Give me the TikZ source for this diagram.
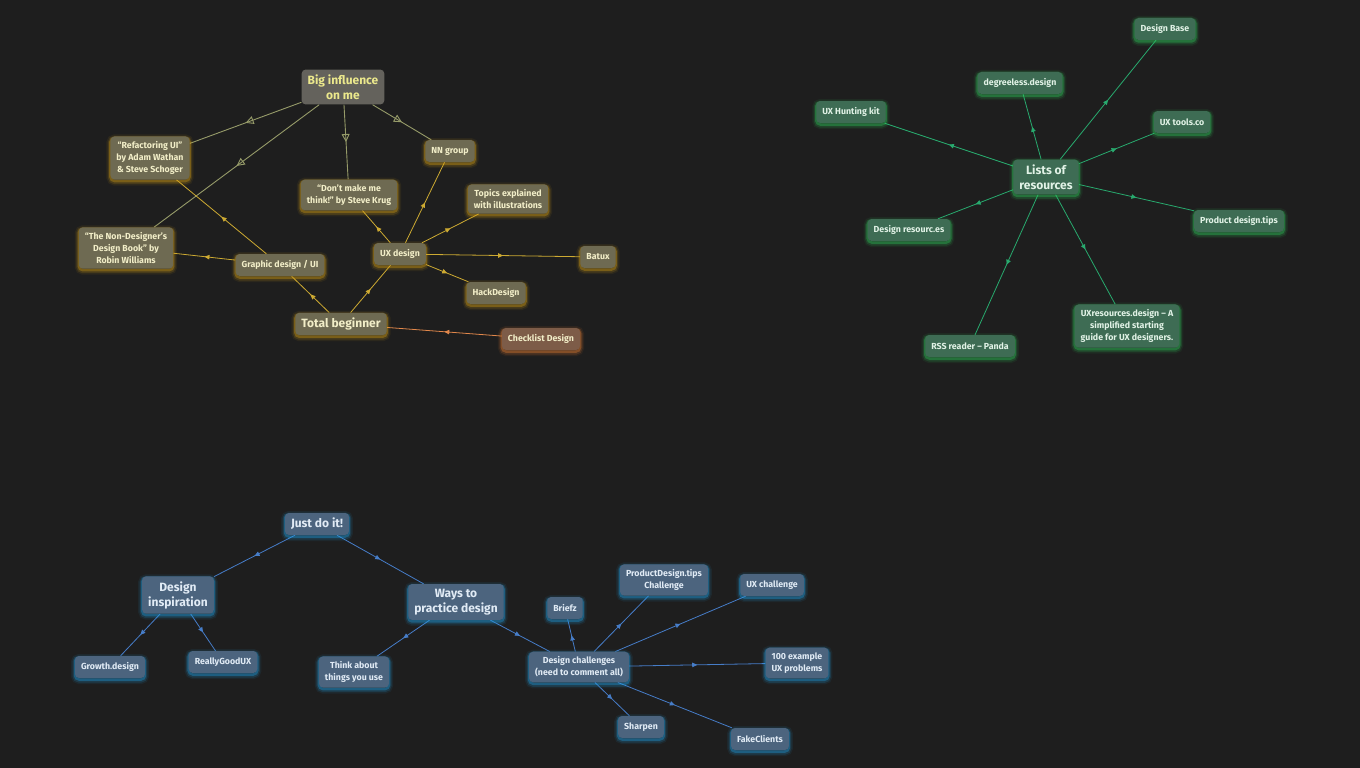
\documentclass[tikz,border=0pt]{standalone}
\usepackage{fontspec}
\setmainfont{Fira Sans}
\usepackage{tikz}
\usepackage{xcolor}
\usetikzlibrary{arrows.meta, decorations.markings, shadows, backgrounds}

\definecolor{canvas}{RGB}{30,30,30}
\definecolor{olivebox}{RGB}{110,106,82}
\definecolor{olivetext}{RGB}{242,238,200}
\definecolor{olivegl}{RGB}{215,160,20}
\definecolor{greybox}{RGB}{100,98,92}
\definecolor{bigtext}{RGB}{235,232,140}
\definecolor{sageline}{RGB}{150,155,105}
\definecolor{goldline}{RGB}{205,170,50}
\definecolor{brownbox}{RGB}{125,92,72}
\definecolor{orangegl}{RGB}{235,130,50}
\definecolor{orangeline}{RGB}{225,135,75}
\definecolor{greenbox}{RGB}{62,108,84}
\definecolor{greentext}{RGB}{225,242,230}
\definecolor{greengl}{RGB}{45,200,90}
\definecolor{greenline}{RGB}{40,170,110}
\definecolor{bluebox}{RGB}{76,100,126}
\definecolor{bluetext}{RGB}{225,235,245}
\definecolor{bluegl}{RGB}{30,160,230}
\definecolor{blueline}{RGB}{70,125,200}

\begin{document}
\begin{tikzpicture}[x=1pt, y=-1pt,
    box/.style={rounded corners=4pt, inner xsep=6pt, inner ysep=5pt, minimum height=22pt,
        align=center, font=\bfseries\fontsize{8.8}{12}\selectfont},
    bigbox/.style={box, font=\bfseries\fontsize{12}{15}\selectfont},
    glow/.style={general shadow={draw=#1, line width=8pt, draw opacity=0.08, shadow yshift=-2pt},
        general shadow={draw=#1, line width=5pt, draw opacity=0.16, shadow yshift=-2pt},
        general shadow={draw=#1, line width=2.5pt, draw opacity=0.35, shadow yshift=-1.5pt}},
    olive/.style={box, fill=olivebox, text=olivetext, glow=olivegl},
    green/.style={box, fill=greenbox, text=greentext, glow=greengl},
    blue/.style={box, fill=bluebox, text=bluetext, glow=bluegl},
    midarr/.style={line width=0.8pt, postaction={decorate}, decoration={markings,
        mark=at position 0.5 with {\arrow{Triangle[length=5pt, width=4.5pt]}}}},
    openarr/.style={line width=0.9pt, postaction={decorate}, decoration={markings,
        mark=at position 0.5 with {\arrow{Triangle[open, length=8pt, width=8pt]}}}}]

    % Canvas
    \begin{pgfonlayer}{background}
        \fill[canvas] (0,0) rectangle (1360,768);
    \end{pgfonlayer}

    % Where I started
    \node[bigbox, fill=greybox, text=bigtext] (big) at (343,87) {Big influence\\on me};
    \node[olive] (refactor) at (150,158) {“Refactoring UI”\\by Adam Wathan\\\& Steve Schoger};
    \node[olive] (nondesign) at (126,248) {“The Non-Designer's\\Design Book" by\\Robin Williams};
    \node[olive] (graphic) at (280,265) {Graphic design / UI};
    \node[olive] (krug) at (349,195) {“Don't make me\\think!" by Steve Krug};
    \node[olive] (nngroup) at (450,151) {NN group};
    \node[olive] (topics) at (508,199) {Topics explained\\with illustrations};
    \node[olive] (uxdesign) at (400,254) {UX design};
    \node[olive] (batux) at (598,257) {Batux};
    \node[olive] (hackdesign) at (496,293) {HackDesign};
    \node[bigbox, fill=olivebox, text=olivetext, glow=olivegl] (beginner) at (341,324) {Total beginner};
    \node[box, fill=brownbox, text=olivetext, glow=orangegl] (checklist) at (541,339) {Checklist Design};

    % Lists of resources
    \node[bigbox, fill=greenbox, text=greentext, glow=greengl] (lists) at (1046,177) {Lists of\\resources};
    \node[green] (designbase) at (1165,29) {Design Base};
    \node[green] (degreeless) at (1020,83) {degreeless.design};
    \node[green] (hunting) at (851,112) {UX Hunting kit};
    \node[green] (uxtools) at (1182,122) {UX tools.co};
    \node[green] (pdtips) at (1239,221) {Product design.tips};
    \node[green] (resources) at (909,230) {Design resourc.es};
    \node[green] (rss) at (970,346) {RSS reader – Panda};
    \node[green] (uxres) at (1127,326) {UXresources.design – A\\simplified starting\\guide for UX designers.};

    % Just do it
    \node[bigbox, fill=bluebox, text=bluetext, glow=bluegl] (justdo) at (317,524) {Just do it!};
    \node[bigbox, fill=bluebox, text=bluetext, glow=bluegl] (inspire) at (178,595) {Design\\inspiration};
    \node[bigbox, fill=bluebox, text=bluetext, glow=bluegl] (practice) at (456,602) {Ways to\\practice design};
    \node[blue] (growth) at (110,667) {Growth.design};
    \node[blue] (goodux) at (223,662) {ReallyGoodUX};
    \node[blue] (think) at (354,672) {Think about\\things you use};
    \node[blue] (challenges) at (579,667) {Design challenges\\(need to comment all)};
    \node[blue] (briefz) at (565,608) {Briefz};
    \node[blue] (pdchallenge) at (664,580) {ProductDesign.tips\\Challenge};
    \node[blue] (uxchallenge) at (772,585) {UX challenge};
    \node[blue] (hundred) at (797,663) {100 example\\UX problems};
    \node[blue] (sharpen) at (641,727) {Sharpen};
    \node[blue] (fakeclients) at (760,739) {FakeClients};

    % Connectors
    \begin{scope}[on background layer]
        \foreach \to in {refactor, nondesign, krug, nngroup}
            \draw[sageline, openarr] (big) -- (\to);
        \foreach \from/\to in {graphic/refactor, graphic/nondesign, beginner/graphic, beginner/uxdesign,
            uxdesign/krug, uxdesign/nngroup, uxdesign/topics, uxdesign/batux, uxdesign/hackdesign}
            \draw[goldline, midarr] (\from) -- (\to);
        \draw[orangeline, midarr] (checklist) -- (beginner);
        \foreach \to in {designbase, degreeless, hunting, uxtools, pdtips, resources, rss, uxres}
            \draw[greenline, midarr] (lists) -- (\to);
        \foreach \from/\to in {justdo/inspire, justdo/practice, inspire/growth, inspire/goodux,
            practice/think, practice/challenges, challenges/briefz, challenges/pdchallenge,
            challenges/uxchallenge, challenges/hundred, challenges/sharpen, challenges/fakeclients}
            \draw[blueline, midarr] (\from) -- (\to);
    \end{scope}
\end{tikzpicture}
\end{document}
